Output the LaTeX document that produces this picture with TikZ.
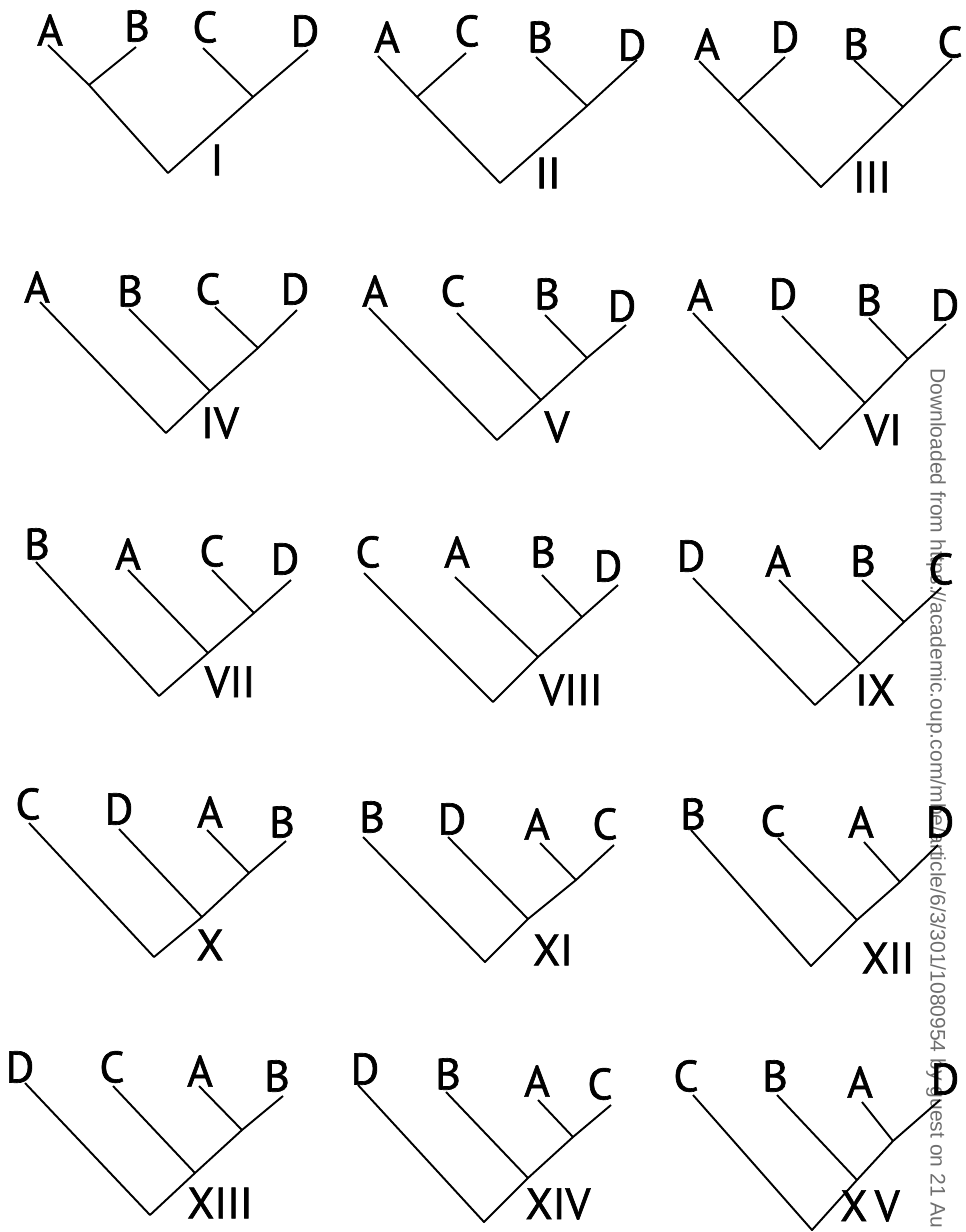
\documentclass[tikz,border=0pt]{standalone}
\usepackage{fontspec}
\setmainfont{PT Sans}
\newfontfamily\taxonfont[FakeBold=1.5]{PT Sans}
\newfontfamily\markfont{Liberation Sans}
\usepackage{tikz}
\definecolor{mark}{HTML}{6E6E6E}

\tikzset{
    taxon/.style={inner sep=0pt, font=\taxonfont\fontsize{25}{25}\selectfont},
    numeral/.style={inner sep=0pt, font=\taxonfont\fontsize{25}{25}\selectfont},
    branch/.style={line width=1.1pt, line join=round}
}

\begin{document}
\begin{tikzpicture}[x=0.02cm, y=-0.02cm]
    \useasboundingbox (0,0) rectangle (966,1232);
    % --- margin note of the download page ---
    \node[rotate=-90, anchor=west, inner sep=0pt, text=mark,
          font=\markfont\fontsize{12}{12}\selectfont] (note) at (936,368)
        {Downloaded from https://academic.oup.com/mbe/article/6/3/301/1080954 by guest on 21 Au};

    % --- I ---
    \node[taxon] (I-1) at (50,30) {A};   \node[taxon] (I-2) at (137,26) {B};
    \node[taxon] (I-3) at (205,27) {C};  \node[taxon] (I-4) at (305,31) {D};
    \coordinate (I-a) at (48,45);   \coordinate (I-b) at (136,47);
    \coordinate (I-c) at (203,48);  \coordinate (I-d) at (308,50);
    \coordinate (I-x) at (89,85);   \coordinate (I-y) at (253,97);
    \coordinate (I-r) at (168,173);
    \draw[branch] (I-a) -- (I-x) -- (I-r) -- (I-y) -- (I-d);
    \draw[branch] (I-b) -- (I-x) (I-c) -- (I-y);
    \node[numeral] (I-n) at (217,160) {I};

    % --- II ---
    \node[taxon] (II-1) at (387,37) {A};  \node[taxon] (II-2) at (467,31) {C};
    \node[taxon] (II-3) at (540,37) {B};  \node[taxon] (II-4) at (632,45) {D};
    \coordinate (II-a) at (378,56);  \coordinate (II-b) at (466,53);
    \coordinate (II-c) at (536,57);  \coordinate (II-d) at (637,60);
    \coordinate (II-x) at (417,97);  \coordinate (II-y) at (587,106);
    \coordinate (II-r) at (500,183);
    \draw[branch] (II-a) -- (II-x) -- (II-r) -- (II-y) -- (II-d);
    \draw[branch] (II-b) -- (II-x) (II-c) -- (II-y);
    \node[numeral] (II-n) at (548,173) {II};

    % --- III ---
    \node[taxon] (III-1) at (707,44) {A};  \node[taxon] (III-2) at (785,37) {D};
    \node[taxon] (III-3) at (856,44) {B};  \node[taxon] (III-4) at (950,42) {C};
    \coordinate (III-a) at (699,61);  \coordinate (III-b) at (785,57);
    \coordinate (III-c) at (854,60);  \coordinate (III-d) at (952,59);
    \coordinate (III-x) at (738,101); \coordinate (III-y) at (903,107);
    \coordinate (III-r) at (821,187);
    \draw[branch] (III-a) -- (III-x) -- (III-r) -- (III-y) -- (III-d);
    \draw[branch] (III-b) -- (III-x) (III-c) -- (III-y);
    \node[numeral] (III-n) at (872,177) {III};

    % --- IV ---
    \node[taxon] (IV-1) at (37,287) {A};   \node[taxon] (IV-2) at (130,291) {B};
    \node[taxon] (IV-3) at (208,289) {C};  \node[taxon] (IV-4) at (295,289) {D};
    \coordinate (IV-a) at (40,302);   \coordinate (IV-b) at (129,309);
    \coordinate (IV-c) at (215,307);  \coordinate (IV-d) at (297,310);
    \coordinate (IV-x) at (210,391);  \coordinate (IV-y) at (258,348);
    \coordinate (IV-r) at (166,433);
    \draw[branch] (IV-a) -- (IV-r) -- (IV-x) -- (IV-y) -- (IV-d);
    \draw[branch] (IV-b) -- (IV-x) (IV-c) -- (IV-y);
    \node[numeral] (IV-n) at (220,423) {IV};

    % --- V ---
    \node[taxon] (V-1) at (375,291) {A};  \node[taxon] (V-2) at (453,291) {C};
    \node[taxon] (V-3) at (547,294) {B};  \node[taxon] (V-4) at (622,306) {D};
    \coordinate (V-a) at (369,308);  \coordinate (V-b) at (457,313);
    \coordinate (V-c) at (545,315);  \coordinate (V-d) at (626,325);
    \coordinate (V-x) at (541,400);  \coordinate (V-y) at (587,358);
    \coordinate (V-r) at (497,440);
    \draw[branch] (V-a) -- (V-r) -- (V-x) -- (V-y) -- (V-d);
    \draw[branch] (V-b) -- (V-x) (V-c) -- (V-y);
    \node[numeral] (V-n) at (557,427) {V};

    % --- VI ---
    \node[taxon] (VI-1) at (700,295) {A};  \node[taxon] (VI-2) at (783,294) {D};
    \node[taxon] (VI-3) at (869,300) {B};  \node[taxon] (VI-4) at (945,305) {D};
    \coordinate (VI-a) at (693,313);  \coordinate (VI-b) at (782,316);
    \coordinate (VI-c) at (869,318);  \coordinate (VI-d) at (946,324);
    \coordinate (VI-x) at (865,403);  \coordinate (VI-y) at (908,359);
    \coordinate (VI-r) at (820,449);
    \draw[branch] (VI-a) -- (VI-r) -- (VI-x) -- (VI-y) -- (VI-d);
    \draw[branch] (VI-b) -- (VI-x) (VI-c) -- (VI-y);
    \node[numeral] (VI-n) at (883,430) {VI};

    % --- VII ---
    \node[taxon] (VII-1) at (37,544) {B};   \node[taxon] (VII-2) at (128,554) {A};
    \node[taxon] (VII-3) at (212,551) {C};  \node[taxon] (VII-4) at (285,559) {D};
    \coordinate (VII-a) at (36,562);   \coordinate (VII-b) at (128,570);
    \coordinate (VII-c) at (212,570);  \coordinate (VII-d) at (291,580);
    \coordinate (VII-x) at (208,653);  \coordinate (VII-y) at (254,613);
    \coordinate (VII-r) at (159,696);
    \draw[branch] (VII-a) -- (VII-r) -- (VII-x) -- (VII-y) -- (VII-d);
    \draw[branch] (VII-b) -- (VII-x) (VII-c) -- (VII-y);
    \node[numeral] (VII-n) at (230,682) {VII};

    % --- VIII ---
    \node[taxon] (VIII-1) at (368,552) {C};  \node[taxon] (VIII-2) at (457,552) {A};
    \node[taxon] (VIII-3) at (543,552) {B};  \node[taxon] (VIII-4) at (608,566) {D};
    \coordinate (VIII-a) at (364,573);  \coordinate (VIII-b) at (455,577);
    \coordinate (VIII-c) at (542,575);  \coordinate (VIII-d) at (618,585);
    \coordinate (VIII-x) at (538,657);  \coordinate (VIII-y) at (582,617);
    \coordinate (VIII-r) at (493,702);
    \draw[branch] (VIII-a) -- (VIII-r) -- (VIII-x) -- (VIII-y) -- (VIII-d);
    \draw[branch] (VIII-b) -- (VIII-x) (VIII-c) -- (VIII-y);
    \node[numeral] (VIII-n) at (571,690) {VIII};

    % --- IX ---
    \node[taxon] (IX-1) at (691,556) {D};  \node[taxon] (IX-2) at (778,561) {A};
    \node[taxon] (IX-3) at (863,561) {B};  \node[taxon] (IX-4) at (941,569) {C};
    \coordinate (IX-a) at (693,578);  \coordinate (IX-b) at (779,580);
    \coordinate (IX-c) at (862,580);  \coordinate (IX-d) at (941,588);
    \coordinate (IX-x) at (860,664);  \coordinate (IX-y) at (904,622);
    \coordinate (IX-r) at (815,705);
    \draw[branch] (IX-a) -- (IX-r) -- (IX-x) -- (IX-y) -- (IX-d);
    \draw[branch] (IX-b) -- (IX-x) (IX-c) -- (IX-y);
    \node[numeral] (IX-n) at (875,690) {IX};

    % --- X ---
    \node[taxon] (X-1) at (28,804) {C};   \node[taxon] (X-2) at (119,809) {D};
    \node[taxon] (X-3) at (210,812) {A};  \node[taxon] (X-4) at (282,822) {B};
    \coordinate (X-a) at (29,823);   \coordinate (X-b) at (119,829);
    \coordinate (X-c) at (207,830);  \coordinate (X-d) at (286,841);
    \coordinate (X-x) at (202,917);  \coordinate (X-y) at (249,873);
    \coordinate (X-r) at (154,957);
    \draw[branch] (X-a) -- (X-r) -- (X-x) -- (X-y) -- (X-d);
    \draw[branch] (X-b) -- (X-x) (X-c) -- (X-y);
    \node[numeral] (X-n) at (210,945) {X};

    % --- XI ---
    \node[taxon] (XI-1) at (372,817) {B};  \node[taxon] (XI-2) at (452,819) {D};
    \node[taxon] (XI-3) at (537,824) {A};  \node[taxon] (XI-4) at (605,824) {C};
    \coordinate (XI-a) at (363,837);  \coordinate (XI-b) at (448,837);
    \coordinate (XI-c) at (540,843);  \coordinate (XI-d) at (614,845);
    \coordinate (XI-x) at (528,919);  \coordinate (XI-y) at (576,880);
    \coordinate (XI-r) at (485,962);
    \draw[branch] (XI-a) -- (XI-r) -- (XI-x) -- (XI-y) -- (XI-d);
    \draw[branch] (XI-b) -- (XI-x) (XI-c) -- (XI-y);
    \node[numeral] (XI-n) at (553,950) {XI};

    % --- XII ---
    \node[taxon] (XII-1) at (693,814) {B};  \node[taxon] (XII-2) at (773,821) {C};
    \node[taxon] (XII-3) at (861,822) {A};  \node[taxon] (XII-4) at (940,822) {D};
    \coordinate (XII-a) at (691,830);  \coordinate (XII-b) at (778,838);
    \coordinate (XII-c) at (864,842);  \coordinate (XII-d) at (938,845);
    \coordinate (XII-x) at (857,920);  \coordinate (XII-y) at (900,882);
    \coordinate (XII-r) at (811,966);
    \draw[branch] (XII-a) -- (XII-r) -- (XII-x) -- (XII-y) -- (XII-d);
    \draw[branch] (XII-b) -- (XII-x) (XII-c) -- (XII-y);
    \node[numeral] (XII-n) at (888,958) {XII};

    % --- XIII ---
    \node[taxon] (XIII-1) at (20,1067) {D};   \node[taxon] (XIII-2) at (112,1067) {C};
    \node[taxon] (XIII-3) at (200,1071) {A};  \node[taxon] (XIII-4) at (277,1076) {B};
    \coordinate (XIII-a) at (25,1083);   \coordinate (XIII-b) at (113,1086);
    \coordinate (XIII-c) at (199,1086);  \coordinate (XIII-d) at (283,1096);
    \coordinate (XIII-x) at (195,1173);  \coordinate (XIII-y) at (242,1130);
    \coordinate (XIII-r) at (150,1215);
    \draw[branch] (XIII-a) -- (XIII-r) -- (XIII-x) -- (XIII-y) -- (XIII-d);
    \draw[branch] (XIII-b) -- (XIII-x) (XIII-c) -- (XIII-y);
    \node[numeral] (XIII-n) at (220,1203) {XIII};

    % --- XIV ---
    \node[taxon] (XIV-1) at (365,1069) {D};  \node[taxon] (XIV-2) at (448,1074) {B};
    \node[taxon] (XIV-3) at (537,1081) {A};  \node[taxon] (XIV-4) at (600,1084) {C};
    \coordinate (XIV-a) at (358,1085);  \coordinate (XIV-b) at (446,1092);
    \coordinate (XIV-c) at (538,1100);  \coordinate (XIV-d) at (611,1105);
    \coordinate (XIV-x) at (528,1178);  \coordinate (XIV-y) at (573,1137);
    \coordinate (XIV-r) at (484,1222);
    \draw[branch] (XIV-a) -- (XIV-r) -- (XIV-x) -- (XIV-y) -- (XIV-d);
    \draw[branch] (XIV-b) -- (XIV-x) (XIV-c) -- (XIV-y);
    \node[numeral] (XIV-n) at (558,1204) {XIV};

    % --- XV ---
    \node[taxon] (XV-1) at (686,1076) {C};  \node[taxon] (XV-2) at (775,1076) {B};
    \node[taxon] (XV-3) at (860,1082) {A};  \node[taxon] (XV-4) at (945,1079) {D};
    \coordinate (XV-a) at (693,1095);  \coordinate (XV-b) at (777,1095);
    \coordinate (XV-c) at (862,1102);  \coordinate (XV-d) at (940,1100);
    \coordinate (XV-x) at (857,1180);  \coordinate (XV-y) at (893,1141);
    \coordinate (XV-r) at (812,1230);
    \draw[branch] (XV-a) -- (XV-r) -- (XV-x) -- (XV-y) -- (XV-d);
    \draw[branch] (XV-b) -- (XV-x) (XV-c) -- (XV-y);
    \node[numeral] (XV-n) at (870,1206) {X\,V};
\end{tikzpicture}
\end{document}
